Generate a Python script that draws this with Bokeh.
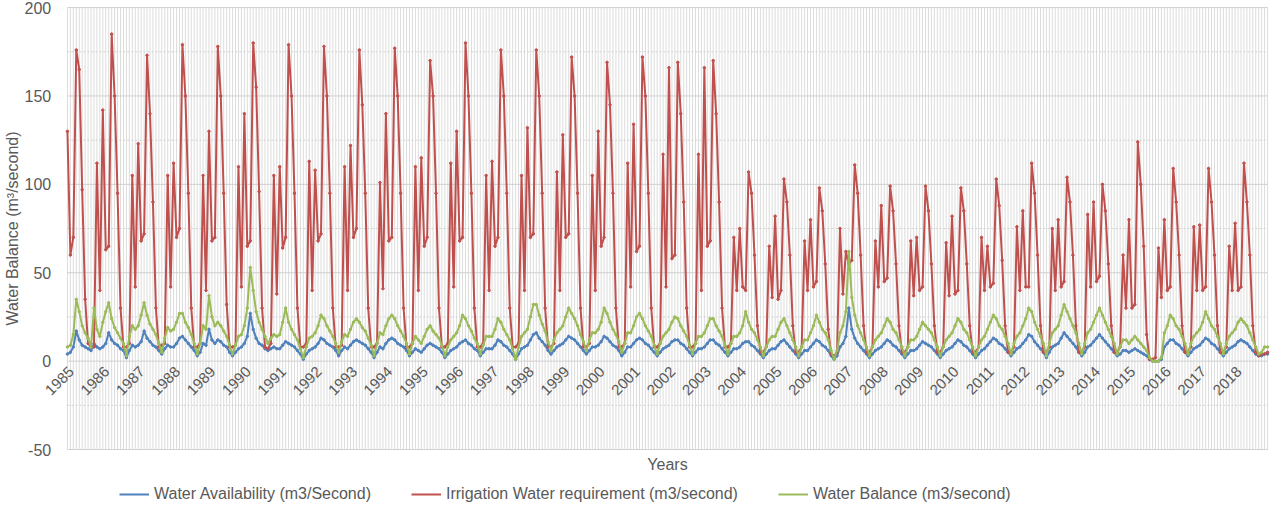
from bokeh.plotting import figure
from bokeh.models import ColumnDataSource, Legend, LegendItem
from bokeh.core.properties import value
from bokeh.embed import file_html
from bokeh.resources import INLINE

years = list(range(1985, 2019))
y_ticks = [-50, 0, 50, 100, 150, 200]
y_minor = [-25, 25, 75, 125, 175]

irrigation = [
    [130, 60, 70, 176, 165, 97, 35, 10, 8, 8, 112, 40],
    [142, 63, 65, 185, 150, 95, 30, 8, 8, 10, 105, 42],
    [123, 68, 72, 173, 140, 90, 30, 8, 9, 10, 105, 42],
    [112, 70, 75, 179, 150, 95, 30, 8, 8, 10, 105, 40],
    [130, 68, 70, 178, 150, 95, 32, 8, 8, 9, 110, 42],
    [140, 65, 68, 180, 155, 96, 30, 8, 7, 10, 105, 38],
    [110, 64, 70, 179, 150, 95, 30, 8, 8, 10, 113, 40],
    [108, 68, 72, 178, 150, 95, 30, 8, 8, 9, 110, 40],
    [122, 70, 75, 176, 145, 95, 30, 8, 8, 10, 101, 41],
    [140, 68, 70, 177, 150, 95, 30, 8, 8, 10, 110, 40],
    [115, 65, 70, 170, 150, 95, 30, 8, 8, 10, 112, 42],
    [130, 68, 70, 180, 150, 95, 30, 8, 8, 10, 105, 40],
    [113, 65, 70, 176, 150, 95, 30, 8, 8, 10, 105, 40],
    [132, 70, 72, 176, 150, 95, 30, 8, 8, 10, 107, 40],
    [128, 70, 72, 172, 150, 95, 30, 8, 8, 10, 105, 40],
    [130, 65, 70, 169, 145, 95, 30, 8, 8, 10, 112, 42],
    [134, 62, 65, 172, 150, 95, 30, 8, 8, 10, 117, 42],
    [166, 58, 60, 169, 140, 90, 30, 8, 8, 10, 117, 40],
    [166, 65, 68, 170, 140, 90, 30, 8, 8, 10, 70, 40],
    [75, 42, 40, 107, 95, 60, 20, 5, 5, 8, 65, 36],
    [82, 35, 40, 103, 90, 60, 20, 5, 5, 8, 68, 40],
    [80, 42, 45, 98, 85, 55, 18, 4, 3, 5, 75, 38],
    [62, 55, 57, 111, 95, 60, 20, 5, 5, 8, 68, 42],
    [88, 45, 47, 99, 85, 55, 20, 5, 5, 8, 68, 37],
    [70, 40, 42, 99, 85, 55, 20, 5, 5, 8, 67, 37],
    [82, 38, 40, 98, 85, 55, 20, 5, 5, 8, 70, 40],
    [65, 42, 44, 103, 88, 57, 20, 5, 5, 8, 76, 40],
    [85, 42, 42, 112, 95, 60, 20, 5, 5, 8, 75, 40],
    [80, 42, 45, 104, 90, 60, 20, 5, 5, 8, 83, 42],
    [90, 45, 48, 100, 85, 55, 20, 5, 5, 8, 60, 30],
    [80, 30, 32, 124, 100, 65, 15, 1, 1, 2, 64, 36],
    [80, 40, 42, 109, 90, 60, 20, 5, 5, 8, 76, 40],
    [77, 40, 42, 109, 90, 60, 20, 5, 5, 8, 65, 40],
    [78, 40, 42, 112, 90, 60, 20, 5, 3, 4, 4, 5],
]

availability = [
    [4, 5, 8, 17, 12, 9, 8, 7, 6, 10, 8, 7],
    [8, 10, 16, 12, 10, 9, 7, 6, 2, 6, 9, 8],
    [9, 11, 17, 13, 11, 9, 8, 6, 4, 7, 9, 8],
    [8, 10, 13, 14, 12, 10, 8, 6, 3, 5, 10, 9],
    [18, 12, 10, 12, 11, 9, 8, 5, 3, 5, 7, 8],
    [10, 14, 27, 18, 13, 10, 9, 7, 6, 7, 8, 7],
    [7, 9, 11, 10, 9, 8, 6, 4, 1, 4, 6, 7],
    [8, 10, 13, 12, 10, 9, 8, 6, 3, 6, 8, 7],
    [9, 11, 12, 11, 10, 9, 7, 5, 2, 5, 8, 7],
    [10, 12, 13, 12, 10, 9, 8, 6, 3, 5, 7, 6],
    [5, 7, 9, 10, 9, 8, 7, 5, 2, 4, 6, 7],
    [8, 10, 11, 12, 10, 9, 7, 6, 3, 5, 7, 7],
    [7, 9, 12, 11, 9, 8, 6, 4, 1, 4, 7, 8],
    [9, 12, 15, 16, 13, 11, 9, 6, 4, 6, 8, 9],
    [10, 12, 14, 13, 12, 10, 8, 6, 4, 6, 8, 8],
    [9, 11, 14, 13, 11, 9, 8, 6, 3, 5, 8, 8],
    [10, 12, 13, 12, 10, 9, 7, 5, 3, 5, 7, 8],
    [9, 11, 12, 12, 10, 9, 7, 5, 3, 5, 7, 7],
    [8, 10, 12, 12, 10, 9, 7, 5, 3, 5, 7, 7],
    [8, 10, 11, 11, 9, 8, 6, 4, 2, 4, 6, 7],
    [7, 9, 11, 12, 10, 8, 6, 4, 2, 4, 6, 6],
    [8, 10, 12, 11, 9, 8, 6, 3, 1, 3, 8, 10],
    [14, 30, 18, 13, 10, 8, 6, 4, 2, 4, 6, 7],
    [8, 10, 12, 11, 9, 8, 6, 4, 2, 4, 6, 6],
    [7, 9, 11, 10, 9, 8, 6, 4, 2, 4, 6, 7],
    [8, 10, 12, 11, 9, 8, 6, 4, 2, 4, 6, 7],
    [9, 11, 13, 12, 10, 9, 7, 5, 3, 5, 7, 8],
    [10, 12, 15, 14, 11, 9, 7, 5, 2, 5, 8, 9],
    [10, 13, 16, 14, 12, 10, 8, 5, 3, 5, 8, 9],
    [11, 13, 15, 13, 11, 9, 7, 5, 3, 4, 6, 6],
    [5, 6, 7, 6, 5, 4, 3, 1, 0, 0, 0, 1],
    [8, 10, 12, 12, 10, 9, 7, 5, 3, 5, 7, 8],
    [9, 11, 13, 12, 10, 9, 7, 5, 3, 5, 7, 8],
    [9, 11, 12, 11, 10, 8, 6, 4, 3, 3, 4, 4],
]

balance = [
    [8, 9, 15, 35, 28, 20, 16, 13, 8, 30, 18, 14],
    [22, 28, 33, 24, 19, 16, 13, 10, 3, 14, 20, 18],
    [20, 26, 33, 26, 21, 18, 15, 10, 5, 13, 19, 17],
    [18, 22, 27, 27, 22, 19, 15, 10, 4, 10, 20, 18],
    [37, 25, 20, 22, 20, 17, 14, 9, 4, 9, 14, 15],
    [20, 30, 53, 40, 28, 22, 18, 14, 10, 13, 15, 14],
    [15, 22, 30, 22, 18, 15, 12, 7, 2, 8, 13, 14],
    [16, 20, 26, 24, 20, 17, 14, 10, 5, 11, 15, 14],
    [18, 22, 24, 22, 19, 17, 13, 9, 3, 10, 16, 15],
    [20, 24, 26, 24, 20, 17, 14, 10, 4, 10, 14, 12],
    [10, 14, 18, 20, 17, 15, 13, 9, 3, 8, 12, 14],
    [16, 20, 26, 24, 20, 17, 13, 10, 4, 9, 14, 14],
    [14, 18, 24, 22, 18, 15, 12, 7, 1, 8, 14, 16],
    [18, 25, 32, 32, 26, 21, 17, 11, 6, 12, 16, 18],
    [20, 25, 30, 27, 24, 20, 15, 11, 6, 12, 16, 16],
    [18, 22, 30, 27, 22, 18, 15, 11, 5, 10, 16, 16],
    [20, 25, 27, 24, 20, 17, 14, 9, 4, 10, 14, 16],
    [18, 22, 25, 24, 20, 17, 14, 9, 4, 10, 14, 14],
    [16, 20, 24, 24, 20, 17, 14, 9, 4, 10, 14, 14],
    [16, 20, 28, 22, 18, 16, 12, 8, 3, 8, 12, 14],
    [14, 18, 22, 24, 20, 16, 12, 8, 3, 8, 12, 12],
    [16, 20, 26, 22, 18, 16, 12, 6, 1, 6, 16, 20],
    [28, 62, 36, 26, 20, 16, 12, 8, 3, 8, 12, 14],
    [16, 20, 24, 22, 18, 16, 12, 8, 3, 8, 12, 12],
    [14, 18, 22, 20, 18, 16, 12, 8, 3, 8, 12, 14],
    [16, 20, 24, 22, 18, 16, 12, 8, 3, 8, 12, 14],
    [18, 22, 26, 24, 20, 18, 14, 10, 4, 10, 14, 16],
    [20, 24, 30, 28, 22, 18, 14, 10, 3, 10, 16, 18],
    [20, 26, 32, 28, 24, 20, 16, 10, 4, 10, 16, 18],
    [22, 26, 30, 26, 22, 18, 14, 10, 4, 8, 12, 12],
    [10, 12, 14, 12, 10, 8, 6, 2, 0, 0, 0, 2],
    [16, 20, 26, 24, 20, 18, 14, 10, 4, 10, 14, 16],
    [18, 22, 28, 24, 20, 18, 14, 10, 4, 10, 14, 16],
    [18, 22, 24, 22, 20, 16, 12, 8, 4, 5, 8, 8],
]

ia = [v for row in irrigation for v in row]
wa = [v for row in availability for v in row]
wb = [v for row in balance for v in row]
x = list(range(len(ia)))
n = len(x) - 1
ylo, yhi = y_ticks[0], y_ticks[-1]

src = ColumnDataSource(data=dict(x=x, ia=ia, wa=wa, wb=wb))

FONT = "Liberation Sans"
GREY = "#595959"

# the frame fills the whole canvas; axis texts and grid are drawn as glyphs
p = figure(width=1270, height=504, output_backend="svg", toolbar_location=None,
           x_range=(-22.7, n + 1.0), y_range=(-81.1, 204.0),
           min_border=0)
p.outline_line_color = None
p.axis.visible = False
p.grid.visible = False

# month gridlines and value gridlines
p.segment(x0=x, y0=[ylo] * len(x), x1=x, y1=[yhi] * len(x),
          line_color="#dcdcdc", line_width=1)
p.segment(x0=[0] * len(y_minor), y0=y_minor, x1=[n] * len(y_minor), y1=y_minor,
          line_color="#d0d0d0", line_width=1, line_dash="2 2")
p.segment(x0=[0] * len(y_ticks), y0=y_ticks, x1=[n] * len(y_ticks), y1=y_ticks,
          line_color="#d0d0d0", line_width=1)

colors = {"wa": "#4f81bd", "ia": "#c0504d", "wb": "#9bbb59"}
names = {"wa": "Water Availability (m3/Second)",
         "ia": "Irrigation Water requirement (m3/second)",
         "wb": "Water Balance (m3/second)"}
items = []
for key in ["wa", "ia", "wb"]:
    r = p.line("x", key, source=src, color=colors[key], line_width=2)
    p.scatter("x", key, source=src, color=colors[key], size=2.5)
    items.append(LegendItem(label=names[key], renderers=[r]))

# y tick labels
p.text(x=[-5.5] * len(y_ticks), y=y_ticks, text=[str(t) for t in y_ticks],
       text_align="right", text_baseline="middle",
       text_font=value(FONT), text_font_size="16px", text_color=GREY)
# year labels sit on the zero line, like the Excel original
p.text(x=[i * 12 for i in range(len(years))], y=[0] * len(years),
       text=[str(y) for y in years], angle=0.785, text_align="right",
       text_baseline="middle", x_offset=4, y_offset=8,
       text_font=value(FONT), text_font_size="15px", text_color=GREY)
p.text(x=[-18.7], y=[75], text=["Water Balance (m³/second)"], angle=1.5708,
       text_align="center", text_baseline="middle",
       text_font=value(FONT), text_font_size="16px", text_color=GREY)
p.text(x=[n / 2], y=[-58.5], text=["Years"], text_align="center",
       text_baseline="middle",
       text_font=value(FONT), text_font_size="16px", text_color=GREY)

legend = Legend(items=items, orientation="horizontal", location=(119, 0),
                label_text_font=FONT, label_text_font_size="16px",
                label_text_color=GREY, border_line_color=None,
                background_fill_alpha=0, glyph_width=30, spacing=40)
p.add_layout(legend)

open("out.html", "w").write(file_html(p, INLINE))
